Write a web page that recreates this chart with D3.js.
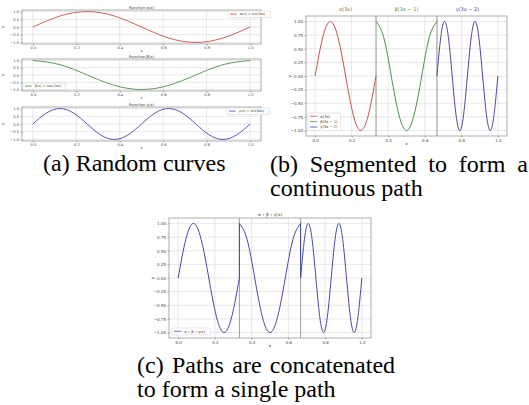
<!DOCTYPE html>
<html>
<head>
<meta charset="utf-8">
<script src="https://cdn.jsdelivr.net/npm/d3@7"></script>
<style>
  body { margin: 0; background: #fff; }
  #wrap { position: relative; width: 529px; height: 405px; }
  svg { display: block; position: absolute; left: 0; top: 0; }
  .cap { position: absolute; font-family: "Liberation Serif", serif; font-size: 24px;
         line-height: 24px; color: #000; white-space: nowrap; }
</style>
</head>
<body>
<div id="wrap"><svg id="fig" width="529" height="405"></svg></div>
<script>
// curve samples (one period split in eighths)
const xEighths = [0, 0.125, 0.25, 0.375, 0.5, 0.625, 0.75, 0.875, 1];
const xSixteenths = [0, 0.0625, 0.125, 0.1875, 0.25, 0.3125, 0.375, 0.4375, 0.5,
                     0.5625, 0.625, 0.6875, 0.75, 0.8125, 0.875, 0.9375, 1];
const alphaVals = [0, 0.71, 1, 0.71, 0, -0.71, -1, -0.71, 0];
const betaVals = [1, 0.71, 0, -0.71, -1, -0.71, 0, 0.71, 1];
const gammaVals = [0, 0.71, 1, 0.71, 0, -0.71, -1, -0.71, 0,
                   0.71, 1, 0.71, 0, -0.71, -1, -0.71, 0];

const xTicks = [0, 0.2, 0.4, 0.6, 0.8, 1.0];
const yTicksCoarse = [-1, -0.5, 0, 0.5, 1];
const yTicksFine = [-1, -0.75, -0.5, -0.25, 0, 0.25, 0.5, 0.75, 1];
const segmentBreaks = [1 / 3, 2 / 3];

const curveNames = ["α(x) = sin(2πx)", "β(x) = cos(2πx)", "γ(x) = sin(4πx)"];
const curveTitles = ["Function α(x)", "Function β(x)", "Function γ(x)"];
const segmentNames = ["α(3x)", "β(3x − 1)", "γ(3x − 2)"];
const joinedName = "α ∘ β ∘ γ(x)";
const colors = ["#c8504a", "#4e8f4b", "#4548a6"];

const sans = "DejaVu Sans";

// captions as html text, placed first; the justified lines get wider word gaps
const captionLines = [
  { text: "(a) Random curves", x: 43, y: 171, ws: 0 },
  { text: "(b) Segmented to form a", x: 270, y: 172, ws: 5.8 },
  { text: "continuous path", x: 270, y: 196, ws: 0 },
  { text: "(c) Paths are concatenated", x: 137, y: 373, ws: 2.3 },
  { text: "to form a single path", x: 137, y: 397, ws: 0 }
];
d3.select("#wrap").selectAll("div.cap").data(captionLines).join("div")
  .attr("class", "cap")
  .style("left", d => d.x + "px")
  .style("top", d => (d.y - 20) + "px")
  .style("word-spacing", d => d.ws + "px")
  .text(d => d.text);

const svg = d3.select("#fig");

const curves = [
  xEighths.map((x, i) => [x, alphaVals[i]]),
  xEighths.map((x, i) => [x, betaVals[i]]),
  xSixteenths.map((x, i) => [x, gammaVals[i]])
];
// each curve squeezed into its third of [0, 1]
const segments = curves.map((c, k) => c.map(d => [(d[0] + k) / 3, d[1]]));

function smallText(g, fs) {
  return g.append("text").style("font-family", sans).attr("font-size", fs).attr("fill", "#333");
}

function panel(box, yTicks, yFmt, fs) {
  const g = svg.append("g");
  const x = d3.scaleLinear().domain([-0.05, 1.05]).range([box.x0, box.x1]);
  const y = d3.scaleLinear().domain([-1.1, 1.1]).range([box.y1, box.y0]);

  g.append("rect").attr("x", box.x0).attr("y", box.y0)
    .attr("width", box.x1 - box.x0).attr("height", box.y1 - box.y0).attr("fill", "#fff");
  g.append("g").selectAll("line").data(xTicks).join("line")
    .attr("x1", d => x(d)).attr("x2", d => x(d))
    .attr("y1", box.y0).attr("y2", box.y1)
    .attr("stroke", "#d9d9d9").attr("stroke-width", 0.6);
  g.append("g").selectAll("line").data(yTicks).join("line")
    .attr("y1", d => y(d)).attr("y2", d => y(d))
    .attr("x1", box.x0).attr("x2", box.x1)
    .attr("stroke", "#d9d9d9").attr("stroke-width", 0.6);

  const xa = g.append("g").attr("transform", `translate(0,${box.y1})`)
    .call(d3.axisBottom(x).tickValues(xTicks).tickFormat(d3.format(".1f"))
      .tickSize(1.5).tickPadding(1.2));
  const ya = g.append("g").attr("transform", `translate(${box.x0},0)`)
    .call(d3.axisLeft(y).tickValues(yTicks).tickFormat(d3.format(yFmt))
      .tickSize(1.5).tickPadding(1.5));
  [xa, ya].forEach(a => {
    a.select(".domain").remove();
    a.attr("font-size", fs).attr("font-family", sans).attr("color", "#444");
    a.selectAll("line").attr("stroke-width", 0.5);
  });

  smallText(g, fs)
    .attr("x", (box.x0 + box.x1) / 2).attr("y", box.y1 + fs * 2.2)
    .attr("text-anchor", "middle").text("x");
  smallText(g, fs)
    .attr("transform", `translate(${box.yLab},${(box.y0 + box.y1) / 2}) rotate(-90)`)
    .attr("text-anchor", "middle").text("y");

  return { g, x, y };
}

function frame(p, box) {
  p.g.append("rect")
    .attr("x", box.x0).attr("y", box.y0)
    .attr("width", box.x1 - box.x0).attr("height", box.y1 - box.y0)
    .attr("fill", "none").attr("stroke", "#8a8a8a").attr("stroke-width", 0.7);
}

function legend(p, x0, y0, entries, fs) {
  const lg = p.g.append("g").attr("transform", `translate(${x0},${y0})`);
  const rowH = fs * 1.5;
  // rough width from character count
  const w = 5 + fs * 2.6 + d3.max(entries, e => e.name.length) * fs * 0.56;
  lg.append("rect").attr("fill", "#fff").attr("stroke", "#ccc")
    .attr("stroke-width", 0.5).attr("rx", 1)
    .attr("width", w).attr("height", fs * 0.4 + entries.length * rowH);
  entries.forEach((e, i) => {
    const cy = fs * 0.9 + i * rowH;
    lg.append("line").attr("x1", 2).attr("x2", 2 + fs * 2)
      .attr("y1", cy).attr("y2", cy).attr("stroke", e.color).attr("stroke-width", 0.8);
    smallText(lg, fs).attr("x", 3 + fs * 2.6).attr("y", cy + fs * 0.35).text(e.name);
  });
}

function makeLine(p) {
  return d3.line().x(d => p.x(d[0])).y(d => p.y(d[1])).curve(d3.curveNatural);
}

// (a) three separate curves
const aBoxes = [
  { x0: 22, x1: 261, y0: 10, y1: 44, yLab: 4 },
  { x0: 22, x1: 261, y0: 59, y1: 91, yLab: 4 },
  { x0: 22, x1: 261, y0: 107, y1: 141, yLab: 4 }
];
const aLegendPos = [[228, 11], [23, 83], [227, 108]];
aBoxes.forEach((box, i) => {
  const p = panel(box, yTicksCoarse, ".1f", 3.6);
  p.g.append("path").datum(curves[i]).attr("d", makeLine(p))
    .attr("fill", "none").attr("stroke", colors[i]).attr("stroke-width", 0.9);
  frame(p, box);
  smallText(p.g, 3.8)
    .attr("x", (box.x0 + box.x1) / 2).attr("y", box.y0 - 1.3)
    .attr("text-anchor", "middle").text(curveTitles[i]);
  legend(p, aLegendPos[i][0], aLegendPos[i][1], [{ name: curveNames[i], color: colors[i] }], 3.4);
});

// (b) segments, drawn separately
const bBox = { x0: 306, x1: 507, y0: 16, y1: 136, yLab: 291 };
const pb = panel(bBox, yTicksFine, ".2f", 4);
segments.forEach((s, i) => {
  pb.g.append("path").datum(s).attr("d", makeLine(pb))
    .attr("fill", "none").attr("stroke", colors[i]).attr("stroke-width", 1);
  const mid = (s[0][0] + s[s.length - 1][0]) / 2;
  smallText(pb.g, 5)
    .attr("x", pb.x(mid)).attr("y", 11).attr("text-anchor", "middle")
    .attr("fill", colors[i]).text(segmentNames[i]);
});
pb.g.selectAll(".sep").data(segmentBreaks).join("line").attr("class", "sep")
  .attr("x1", d => pb.x(d)).attr("x2", d => pb.x(d))
  .attr("y1", bBox.y0).attr("y2", bBox.y1)
  .attr("stroke", "#666").attr("stroke-width", 0.7);
frame(pb, bBox);
legend(pb, 308, 113, segmentNames.map((n, i) => ({ name: n, color: colors[i] })), 3.6);

// (c) one path through all segments
const cBox = { x0: 169, x1: 371, y0: 218, y1: 338, yLab: 154 };
const pc = panel(cBox, yTicksFine, ".2f", 4);
pc.g.selectAll(".sep").data(segmentBreaks).join("line").attr("class", "sep")
  .attr("x1", d => pc.x(d)).attr("x2", d => pc.x(d))
  .attr("y1", cBox.y0).attr("y2", cBox.y1)
  .attr("stroke", "#777").attr("stroke-width", 0.7);
const lc = makeLine(pc);
pc.g.append("path")
  .attr("d", segments.map((s, i) => i ? lc(s).replace(/^M/, "L") : lc(s)).join(""))
  .attr("fill", "none").attr("stroke", colors[2]).attr("stroke-width", 1);
frame(pc, cBox);
smallText(pc.g, 4.2)
  .attr("x", (cBox.x0 + cBox.x1) / 2).attr("y", 216).attr("text-anchor", "middle")
  .text(joinedName);
legend(pc, 172, 328, [{ name: joinedName, color: colors[2] }], 3.6);
</script>
</body>
</html>
